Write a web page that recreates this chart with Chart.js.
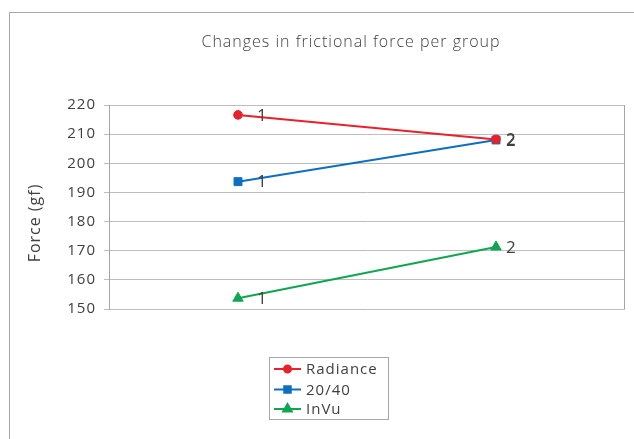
<!DOCTYPE html>
<html>
<head>
<meta charset="utf-8">
<script src="https://cdn.jsdelivr.net/npm/chart.js@4"></script>
<style>
  html, body { margin: 0; padding: 0; background: #fff; }
  #wrap { width: 634px; height: 439px; position: relative; }
</style>
</head>
<body>
<div id="wrap"><canvas id="c" width="634" height="439"></canvas></div>
<script>
const categories = ['1', '2'];
const radiance = [216.6, 208.2];
const series2040 = [193.7, 208.0];
const invu = [153.7, 171.3];
const seriesNames = ['Radiance', '20/40', 'InVu'];
const yTicks = [150, 160, 170, 180, 190, 200, 210, 220];
const chartTitle = 'Changes in frictional force per group';
const yTitle = 'Force (gf)';

const FONT = '"Open Sans", "DejaVu Sans", sans-serif';
const TEXT = '#404040';
const LABEL_DX = [19, 10];

const decor = {
  id: 'decor',
  beforeUpdate(chart) { chart.ctx.letterSpacing = '1px'; },
  beforeDraw(chart) {
    const ctx = chart.ctx;
    ctx.letterSpacing = '1px';
    ctx.save();
    ctx.strokeStyle = '#a6a6a6';
    ctx.lineWidth = 1;
    ctx.beginPath();
    ctx.moveTo(9.5, 439);
    ctx.lineTo(9.5, 12.5);
    ctx.lineTo(634, 12.5);
    ctx.stroke();
    // title
    ctx.fillStyle = TEXT;
    ctx.font = '300 16px ' + FONT;
    ctx.textAlign = 'center';
    ctx.textBaseline = 'middle';
    ctx.fillText(chartTitle, 351, 42);
    // y title
    ctx.translate(35, 223);
    ctx.rotate(-Math.PI / 2);
    ctx.font = '16px ' + FONT;
    ctx.fillText(yTitle, 0, 0);
    ctx.restore();
  },
  afterDatasetsDraw(chart) {
    const ctx = chart.ctx;
    const a = chart.chartArea;
    ctx.save();
    ctx.strokeStyle = '#a6a6a6';
    ctx.lineWidth = 1;
    ctx.beginPath();
    ctx.moveTo(Math.round(a.right) - 0.5, a.top);
    ctx.lineTo(Math.round(a.right) - 0.5, a.bottom);
    ctx.stroke();
    // data labels
    ctx.fillStyle = TEXT;
    ctx.font = '17px ' + FONT;
    ctx.textAlign = 'left';
    ctx.textBaseline = 'middle';
    chart.data.datasets.forEach((ds, i) => {
      const meta = chart.getDatasetMeta(i);
      meta.data.forEach((pt, j) => {
        ctx.fillText(chart.data.labels[j], pt.x + LABEL_DX[j], pt.y + 1);
      });
    });
    // legend
    const bx = 269.5, by = 357.5, bw = 119, bh = 62;
    ctx.fillStyle = '#fff';
    ctx.fillRect(bx, by, bw, bh);
    ctx.strokeStyle = '#a6a6a6';
    ctx.strokeRect(bx, by, bw, bh);
    const rowsY = [369, 389.5, 409];
    chart.data.datasets.forEach((ds, i) => {
      const y = rowsY[i];
      ctx.strokeStyle = ds.borderColor;
      ctx.lineWidth = 2;
      ctx.beginPath();
      ctx.moveTo(274, y);
      ctx.lineTo(301, y);
      ctx.stroke();
      Chart.helpers.drawPoint(ctx, {
        pointStyle: ds.pointStyle,
        radius: ds.legendRadius,
        borderWidth: 1
      }, 287.5, y);
      ctx.fillStyle = ds.borderColor;
      ctx.fill();
      ctx.fillStyle = TEXT;
      ctx.font = '15px ' + FONT;
      ctx.textAlign = 'left';
      ctx.textBaseline = 'middle';
      ctx.fillText(ds.label, 306, y + 1);
    });
    ctx.restore();
  }
};

function mk(label, data, color, style, r, lr) {
  return {
    label, data,
    borderColor: color, backgroundColor: color,
    pointBackgroundColor: color, pointBorderColor: color,
    borderWidth: 2, pointStyle: style, pointRadius: r, pointBorderWidth: 1,
    pointHoverRadius: r, legendRadius: lr, tension: 0
  };
}

new Chart(document.getElementById('c'), {
  type: 'line',
  data: {
    labels: categories,
    datasets: [
      mk(seriesNames[0], radiance, '#e8212a', 'circle', 4.3, 3.5),
      mk(seriesNames[1], series2040, '#0d6fc0', 'rect', 5.6, 4.6),
      mk(seriesNames[2], invu, '#10a651', 'triangle', 6, 5)
    ]
  },
  options: {
    responsive: false,
    animation: false,
    layout: { padding: { top: 105, bottom: 130, right: 9, left: 0 } },
    plugins: { legend: { display: false }, title: { display: false }, tooltip: { enabled: false } },
    scales: {
      x: {
        type: 'category',
        offset: true,
        display: false
      },
      y: {
        min: 150, max: 220,
        afterFit(scale) { scale.width = 109; },
        afterBuildTicks(scale) { scale.ticks = yTicks.map(v => ({ value: v })); },
        border: { display: true, color: '#a6a6a6', width: 1 },
        grid: { color: '#bdbdbd', lineWidth: 1, tickLength: 5, drawTicks: true },
        ticks: { color: TEXT, font: { family: FONT, size: 15 }, padding: 8 }
      }
    }
  },
  plugins: [decor]
});
</script>
</body>
</html>
